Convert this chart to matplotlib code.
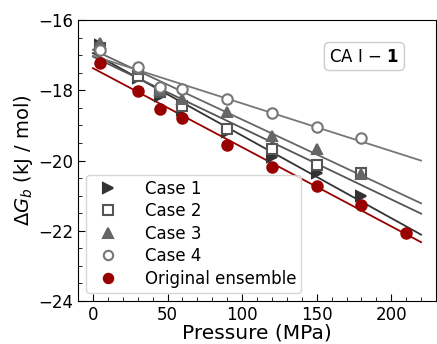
import numpy as np
import matplotlib
matplotlib.use('Agg')
from matplotlib import pyplot as plt
from matplotlib.ticker import MultipleLocator

# pressures (MPa)
p_case = [5, 30, 45, 60, 90, 120, 150, 180]
p_orig = [5, 30, 45, 60, 90, 120, 150, 180, 210]

# binding free energies (kJ/mol)
case1 = [-16.70, -17.65, -18.15, -18.55, -19.20, -19.90, -20.36, -21.00]
case2 = [-16.80, -17.60, -18.05, -18.45, -19.10, -19.67, -20.13, -20.36]
case3 = [-16.65, -17.40, -18.00, -18.25, -18.62, -19.30, -19.68, -20.39]
case4 = [-16.85, -17.34, -17.90, -17.97, -18.25, -18.65, -19.04, -19.37]
orig = [-17.22, -18.02, -18.53, -18.79, -19.56, -20.19, -20.73, -21.28, -22.06]

labels = ['Case 1', 'Case 2', 'Case 3', 'Case 4', 'Original ensemble']

fig = plt.figure(figsize=(4.37, 3.44), dpi=100)
ax = fig.add_axes([78 / 437, 43 / 344, 358 / 437, 281 / 344])

series = [
    (p_case, case1, '>', '#333333', True),
    (p_case, case2, 's', '#555555', False),
    (p_case, case3, '^', '#666666', True),
    (p_case, case4, 'o', '#777777', False),
    (p_orig, orig, 'o', '#990000', True),
]

xfit = np.array([0, 220])
for (px, gy, m, c, filled), lab in zip(series, labels):
    k, b = np.polyfit(px, gy, 1)
    ax.plot(xfit, k * xfit + b, color=c, lw=1.3, zorder=2)
    ax.plot(px, gy, ls='none', marker=m, ms=7.5, color=c,
            mfc=c if filled else 'white', mec=c, mew=1.5, label=lab, zorder=3)

ax.set_xlim(-10, 230)
ax.set_ylim(-24, -16)
ax.xaxis.set_major_locator(MultipleLocator(50))
ax.xaxis.set_minor_locator(MultipleLocator(10))
ax.yaxis.set_major_locator(MultipleLocator(2))
ax.yaxis.set_minor_locator(MultipleLocator(0.5))
ax.tick_params(which='both', direction='in', labelsize=12)
ax.tick_params(which='major', length=5)
ax.tick_params(which='minor', length=3)

ax.set_xlabel('Pressure (MPa)', fontsize=14.5, labelpad=0)
ax.set_ylabel(r'$\Delta G_b$ (kJ / mol)', fontsize=14, labelpad=2)

ax.text(0.80, 0.87, r'CA I $-$ $\mathbf{1}$', transform=ax.transAxes,
        fontsize=12, ha='center', va='center',
        bbox=dict(boxstyle='round,pad=0.3', fc='white', ec='#cccccc'))

ax.legend(loc='lower left', fontsize=12, handletextpad=1.2, markerscale=0.9,
          borderpad=0.3, labelspacing=0.27, framealpha=0.8)

fig.savefig('out.png', dpi=100)
